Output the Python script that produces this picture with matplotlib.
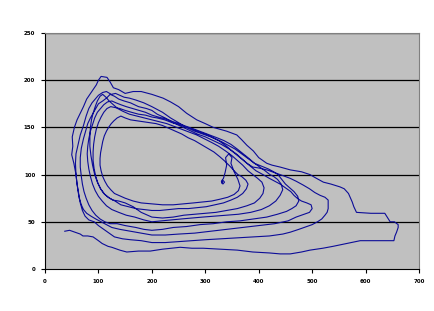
import matplotlib
matplotlib.use("Agg")
import matplotlib.pyplot as plt
import numpy as np

x_ticks = [0, 100, 200, 300, 400, 500, 600, 700]
y_ticks = [0, 50, 100, 150, 200, 250]

# trajectory, one loop per list (counter-clockwise loops)
loop_a_x = [37,46,56,66,71,80,90,100,107,118,125,140,153,175,197,220,253,275,296,330,360,389,420,440,459,480,496,520,539,565,590,620,653,655,658,661,661,654,646,636,610,583,578,575,568,560,552,535,521,505,496,480,459,440,425,415,400,390,378,368,359,340,315,300,284,265,250,235,221,200,180,165,150,138,128,122,116,105,100,96,90,84,78,72,66,60,55,51,52,50,54,58,60,63,66,70,75,82,92,100,110]
loop_a_y = [40,41,39,37,35,35,34,30,27,24,23,20,18,19,19,21,23,22,22,21,20,18,17,16,16,18,20,22,24,27,30,30,30,35,39,44,47,50,50,59,59,60,66,71,80,85,87,90,92,97,100,103,105,108,110,112,118,125,131,137,142,146,150,154,158,165,172,177,181,185,188,188,186,190,192,198,203,204,200,195,190,185,180,172,165,158,150,140,130,121,112,100,90,80,70,62,56,52,50,46,42]

loop_b_x = [120,130,145,160,180,200,225,250,275,300,330,360,390,420,445,459,475,490,500,510,518,524,528,530,530,524,515,505,495,483,470,459,445,430,415,400,389,378,365,352,340,325,310,295,280,265,250,235,220,200,185,170,158,148,140,132,124,115,108,100,94,88,82,77,72,66,62,58,57,58,60,62,64,68,72,78,86,95,105,115]
loop_b_y = [38,34,32,31,30,28,28,29,30,31,32,33,34,35,37,39,42,45,47,50,53,57,60,64,73,76,78,81,85,89,93,96,99,102,105,107,108,112,118,124,130,136,140,143,146,150,155,160,166,172,176,179,181,182,184,186,185,188,187,184,180,176,170,162,152,142,132,122,112,100,90,82,75,68,63,59,56,53,50,47]

loop_c_x = [125,140,160,180,200,225,250,280,310,340,370,400,430,455,470,485,495,500,498,490,480,472,466,460,450,440,430,420,408,395,382,370,358,345,330,315,300,285,270,255,240,225,210,200,190,175,160,148,138,130,122,115,108,100,95,90,85,80,76,72,68,66,66,68,70,73,77,82,88,95,103,112,122]
loop_c_y = [44,42,40,38,36,36,37,38,40,42,44,46,48,51,55,58,60,64,68,70,72,75,78,82,86,90,93,96,100,104,110,116,122,127,132,136,140,143,147,151,155,160,164,168,170,172,176,178,180,183,185,181,178,175,170,165,160,154,146,138,128,118,108,98,90,82,75,68,62,57,53,50,48]

loop_d_x = [135,150,170,185,200,220,240,265,290,315,340,365,390,415,435,452,462,470,475,473,466,458,450,443,436,428,418,405,392,380,368,356,343,330,315,300,285,270,255,240,226,212,200,188,176,164,152,142,133,125,117,110,104,98,93,89,85,82,80,79,80,82,85,89,94,100,107,115,125]
loop_d_y = [48,46,44,42,41,42,44,45,47,48,50,51,53,55,58,61,64,67,72,77,82,86,90,95,100,103,106,109,112,117,122,127,131,135,139,143,146,150,153,156,159,161,163,166,168,170,172,174,176,178,177,174,170,166,160,153,146,138,130,122,114,106,98,90,83,77,72,67,63]

loop_e_x = [138,152,168,185,200,218,236,255,275,295,318,340,362,385,405,420,432,440,445,442,435,428,421,412,402,392,382,371,360,348,335,322,308,294,280,266,252,238,224,210,200,188,175,162,150,140,131,123,116,110,105,100,96,93,91,90,90,92,95,99,104,110,118,127]
loop_e_y = [60,57,55,52,50,51,52,53,54,55,56,57,58,60,63,67,72,78,84,90,95,98,100,104,108,112,117,122,127,132,136,139,142,145,148,150,153,155,158,160,161,163,164,166,168,170,171,172,170,166,161,155,148,140,132,124,115,106,98,91,85,80,76,73]

loop_f_x = [138,150,165,180,200,220,240,260,280,300,320,340,360,378,392,402,408,410,406,398,389,380,370,360,350,338,325,312,298,284,270,256,242,228,214,200,186,172,158,146,136,128,120,114,108,103,98,94,90,87,85,84,84,86,89,93,98,104,112,121,131]
loop_f_y = [72,70,66,60,55,54,55,57,58,59,60,62,64,67,70,75,80,86,92,96,100,104,110,115,120,125,130,134,138,142,145,148,151,154,156,158,160,162,164,167,170,174,178,182,185,183,178,172,165,158,150,140,130,120,110,100,92,85,79,75,72]

loop_g_x = [142,156,170,185,200,215,232,250,268,285,302,318,334,348,360,370,377,380,376,368,361,354,346,337,327,316,304,292,280,268,256,244,232,220,208,196,184,172,160,150,142,135,129,124,119,115,111,108,106,104,103,103,105,108,112,117,123,130]
loop_g_y = [68,66,64,63,62,62,63,64,64,65,66,68,70,73,76,80,85,90,94,98,100,104,109,114,119,124,128,132,136,139,143,146,149,152,154,155,156,157,158,160,162,160,157,154,150,146,141,135,129,123,117,110,104,98,93,88,84,80]

loop_h_x = [138,150,165,180,200,220,240,260,278,295,312,328,342,354,362,365,361,354,348,350,344,338,340,337,334,330,333,336,333,331]
loop_h_y = [78,75,72,70,69,68,68,69,70,71,72,74,76,79,83,88,95,103,112,118,122,118,110,102,96,93,90,92,94,91]

path_x = (loop_a_x + loop_b_x + loop_c_x + loop_d_x + loop_e_x
          + loop_f_x + loop_g_x + loop_h_x)
path_y = (loop_a_y + loop_b_y + loop_c_y + loop_d_y + loop_e_y
          + loop_f_y + loop_g_y + loop_h_y)

fig = plt.figure(figsize=(4.34, 3.11), dpi=100)
ax = fig.add_axes([45/434, 42/311, 374/434, 236/311])
ax.set_facecolor("#c0c0c0")
ax.set_xlim(0, 700)
ax.set_ylim(0, 250)
ax.set_xticks(x_ticks)
ax.set_yticks(y_ticks)
for yv in y_ticks[1:]:
    ax.axhline(yv, color="black", lw=0.9, zorder=1)
ax.plot(path_x, path_y, color="#0c0c98", lw=0.8, zorder=2)

for s in ["top", "right"]:
    ax.spines[s].set_color("#808080")
    ax.spines[s].set_linewidth(0.8)
for s in ["left", "bottom"]:
    ax.spines[s].set_color("black")
    ax.spines[s].set_linewidth(0.8)
ax.tick_params(direction="out", length=3, width=0.8, color="black",
               labelsize=4, pad=4)
for lab in ax.get_xticklabels() + ax.get_yticklabels():
    lab.set_fontweight("bold")

fig.savefig("out.png", dpi=100, facecolor="white")
